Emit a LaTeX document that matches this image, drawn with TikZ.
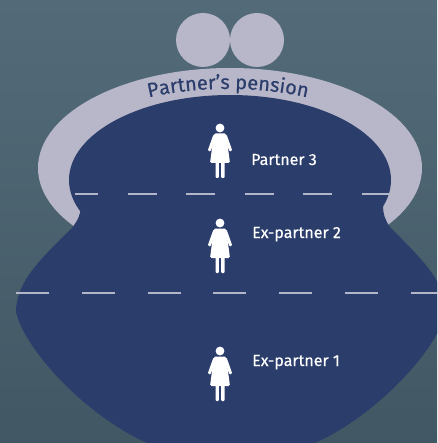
\documentclass[tikz,border=0pt]{standalone}
\usepackage{fontspec}
\setmainfont{Fira Sans}
\newfontfamily\pursefont{Fira Sans}[FakeBold=0.35]
\usepackage{xcolor}
\usetikzlibrary{positioning}
\usetikzlibrary{decorations.text}

\definecolor{sea}{HTML}{536B79}
\definecolor{seadark}{HTML}{425764}
\definecolor{purse}{HTML}{2B3D6B}
\definecolor{clasp}{HTML}{B8B7C9}
\definecolor{seam}{HTML}{B3B6C9}

\tikzset{
  woman/.pic={
    \fill[white] (0,-22) circle[radius=4.4];
    \fill[white,rounded corners=1.5] (-6,-16.5) -- (6,-16.5) -- (10,13) -- (-10,13) -- cycle;
    \draw[white,line width=3,line cap=round] (-5.5,-14) -- (-10.5,0) (5.5,-14) -- (10.5,0);
    \fill[white,rounded corners=1] (-4.5,12) rectangle (-1.2,28) (1.2,12) rectangle (4.5,28);
  },
  lbl/.style={text=white,font=\pursefont\fontsize{16}{16}\selectfont,anchor=base west,inner sep=0pt},
  seamline/.style={seam,line width=1.7}
}

\begin{document}
\begin{tikzpicture}[x=1pt,y=-1pt]
  \useasboundingbox (0,0) rectangle (437,443);
  \clip (0,0) rectangle (437,443);
  \shade[top color=sea,bottom color=seadark] (0,0) rectangle (437,443);

  % coins
  \fill[clasp] (203,40) circle[radius=27];
  \fill[clasp] (257,40) circle[radius=27];

  % clasp and purse
  \fill[clasp] (230,168) ellipse[x radius=192,y radius=100];
  \fill[purse] (230,180) ellipse[x radius=161,y radius=85];
  \fill[purse] (72,228) .. controls (45,255) and (16,280) .. (16,312)
    .. controls (25,350) and (85,415) .. (147,443)
    .. controls (180,458) and (205,468) .. (231,468)
    .. controls (257,468) and (282,458) .. (315,443)
    .. controls (377,415) and (437,350) .. (446,312)
    .. controls (446,280) and (417,255) .. (390,227)
    .. controls (385,220) and (383,214) .. (383,205) -- (383,185)
    -- (81,185) -- (81,205) .. controls (81,214) and (78,220) .. (72,228) -- cycle;

  \path[decorate,decoration={text along path,text align=center,
      text={|\pursefont\fontsize{20}{20}\selectfont\color{purse}|Partner’s pension}}]
    (52,168) arc[start angle=180,end angle=360,x radius=176,y radius=79];

  % seams
  \draw[seamline,dash pattern=on 29 off 29.5,dash phase=5.8] (75,194) -- (389,194);
  \draw[seamline,dash pattern=on 33 off 32.8] (16,293) -- (437,293);

  % partners
  \pic at (220,150) {woman};
  \node[lbl] (p3) at (251,165) {Partner 3};
  \pic at (220,245) {woman};
  \node[lbl] (x2) at (252,238) {Ex-partner 2};
  \pic at (220,373) {woman};
  \node[lbl] (x1) at (252,366) {Ex-partner 1};
\end{tikzpicture}
\end{document}
